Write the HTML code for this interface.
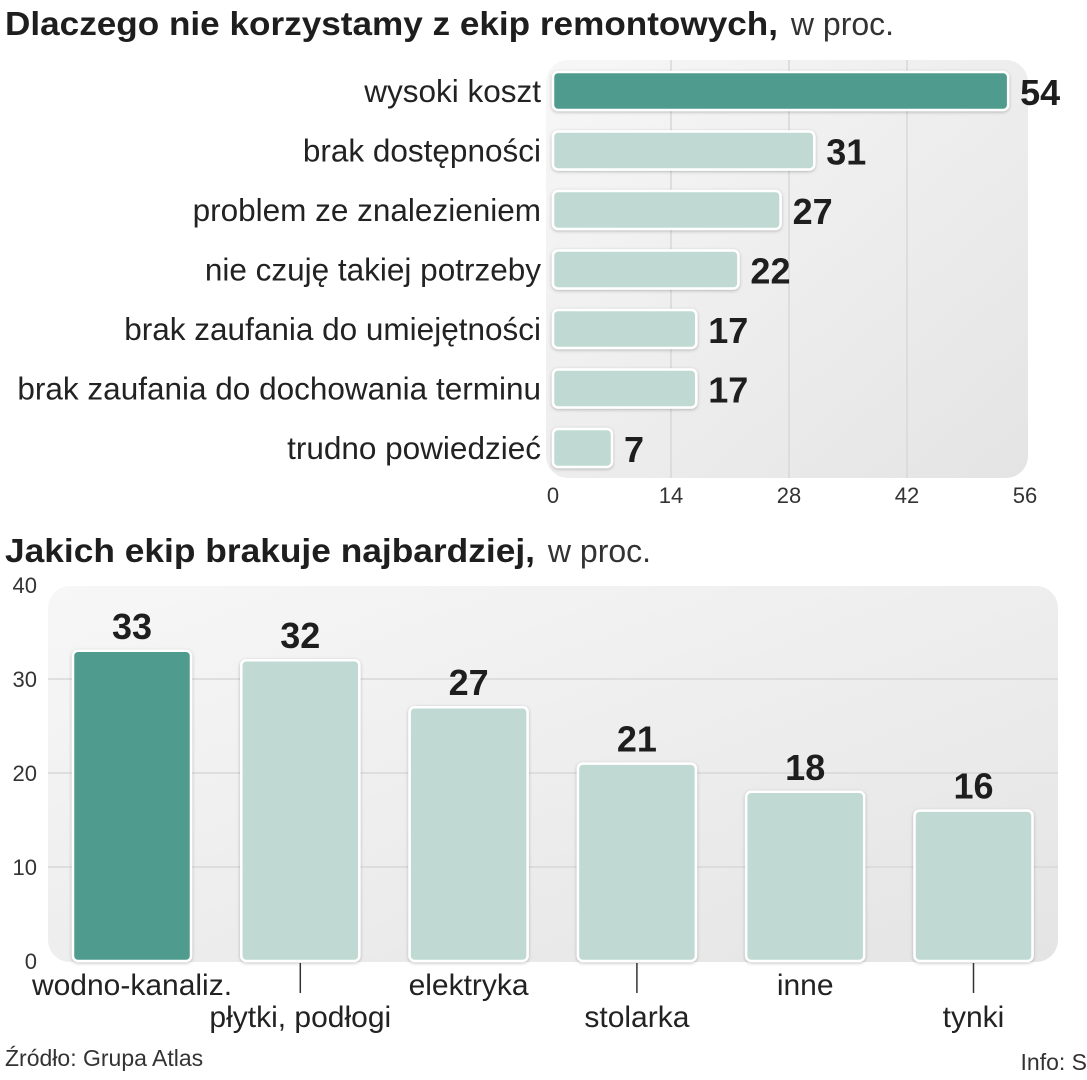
<!DOCTYPE html>
<html><head><meta charset="utf-8"><style>
body{margin:0;background:#fff;}
svg{display:block;font-family:"Liberation Sans",sans-serif;}
.lbl{font-size:31.5px;fill:#222;}
.val{font-family:"Liberation Sans Narrow","Liberation Sans",sans-serif;font-weight:bold;font-size:36px;fill:#1e1e1e;}
.tick{font-size:22px;fill:#333;}
</style></head><body>
<svg id="c" width="1087" height="1080" viewBox="0 0 1087 1080">
<defs>
<linearGradient id="bg" x1="0" y1="0" x2="1" y2="1"><stop offset="0" stop-color="#f7f7f7"/><stop offset="1" stop-color="#e4e4e4"/></linearGradient>
<filter id="sh" x="-5%" y="-20%" width="110%" height="140%"><feDropShadow dx="0" dy="1" stdDeviation="1.5" flood-color="#000" flood-opacity="0.25"/></filter>
</defs>
<text x="5" y="35"><tspan font-family="Liberation Sans Narrow,Liberation Sans,sans-serif" font-weight="bold" font-size="33" fill="#1e1e1e" textLength="773" lengthAdjust="spacingAndGlyphs">Dlaczego nie korzystamy z ekip remontowych,</tspan><tspan font-size="32" fill="#333" dx="4"> w proc.</tspan></text>
<rect x="546" y="60" width="482" height="418" rx="22" fill="url(#bg)"/>
<g id="top"></g>
<text x="5" y="562"><tspan font-family="Liberation Sans Narrow,Liberation Sans,sans-serif" font-weight="bold" font-size="33" fill="#1e1e1e" textLength="530" lengthAdjust="spacingAndGlyphs">Jakich ekip brakuje najbardziej,</tspan><tspan font-size="32" fill="#333" dx="4"> w proc.</tspan></text>
<rect x="48" y="586" width="1010" height="376" rx="22" fill="url(#bg)"/>
<g id="bot"></g>
<text x="5" y="1066" font-size="23" fill="#333">Źródło: Grupa Atlas</text>
<text x="1087" y="1070" font-size="23" fill="#333" text-anchor="end">Info: S</text>
</svg>
<script>
const topCats=["wysoki koszt","brak dostępności","problem ze znalezieniem","nie czuję takiej potrzeby","brak zaufania do umiejętności","brak zaufania do dochowania terminu","trudno powiedzieć"];
const topVals=[54,31,27,22,17,17,7];
const topTicks=[0,14,28,42,56];
const botCats=["wodno-kanaliz.","płytki, podłogi","elektryka","stolarka","inne","tynki"];
const botVals=[33,32,27,21,18,16];
const botTicks=[0,10,20,30,40];
const NS="http://www.w3.org/2000/svg";
function mk(p,tag,a,txt){const e=document.createElementNS(NS,tag);for(const k in a)e.setAttribute(k,a[k]);if(txt!==undefined)e.textContent=txt;p.appendChild(e);return e;}
const tx=v=>553+v*(1025-553)/56;
const ty=i=>91+i*59.5;
const by=v=>961-v*(961-585)/40;
const bx=i=>73+i*168.3;
const T=document.getElementById('top'),B=document.getElementById('bot');
topTicks.forEach(t=>{
 if(t>0&&t<56){const l=mk(T,'line',{x1:tx(t),x2:tx(t),y1:60,y2:478,stroke:'#d8d8d8','stroke-width':1.5});
 
 }
 const s=mk(T,'text',{x:tx(t),y:503,'text-anchor':'middle',class:'tick'},t);
 
 
});
topVals.forEach((v,i)=>{
 const r=mk(T,'rect',{x:553,y:ty(i)-19,width:tx(v)-553,height:38,rx:5,fill:i==0?'#509b8d':'#c0dad3',stroke:'#fff','stroke-width':2.5,filter:'url(#sh)'});
 
 
 const l=mk(T,'text',{x:541,y:ty(i)+11,'text-anchor':'end',class:'lbl'},topCats[i]);
 
 
 const n=mk(T,'text',{x:tx(v)+12,y:ty(i)+14,class:'val'},v);
 
 
});
botTicks.forEach(t=>{
 if(t>0&&t<40){const l=mk(B,'line',{x1:48,x2:1058,y1:by(t),y2:by(t),stroke:'#d8d8d8','stroke-width':1.5});
 
 }
 const s=mk(B,'text',{x:37,y:by(t)+8,'text-anchor':'end',class:'tick'},t);
 
 
});
botVals.forEach((v,i)=>{
 const x=bx(i),cx=x+59;
 const r=mk(B,'rect',{x:x,y:by(v),width:118,height:961-by(v),rx:5,fill:i==0?'#509b8d':'#c0dad3',stroke:'#fff','stroke-width':2.5,filter:'url(#sh)'});
 
 
 const n=mk(B,'text',{x:cx,y:by(v)-12,'text-anchor':'middle',class:'val'},v);
 
 
 const low=i%2==1;
 if(low){const l=mk(B,'line',{x1:cx,x2:cx,y1:963,y2:993,stroke:'#333','stroke-width':1.5});
 
 }
 const c=mk(B,'text',{x:cx,y:low?1027:995,'text-anchor':'middle',class:'lbl',style:'font-size:30px'},botCats[i]);
 
 
});
</script>
</body></html>
